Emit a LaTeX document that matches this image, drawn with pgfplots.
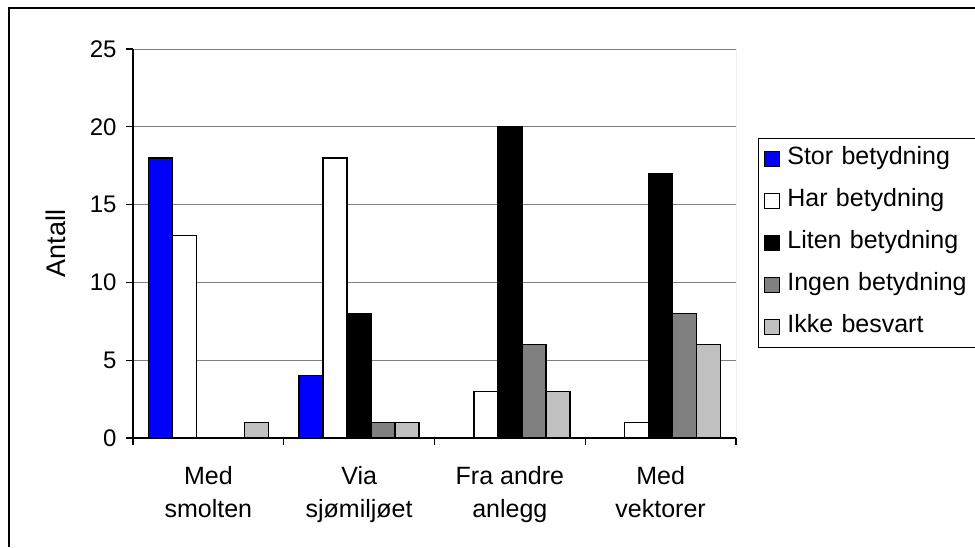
\documentclass[border=0pt]{standalone}
\usepackage{fontspec}
\setmainfont{Liberation Sans}
\usepackage{pgfplots}
\pgfplotsset{compat=1.18}

\definecolor{gridgray}{RGB}{128,128,128}
\definecolor{storblue}{RGB}{0,0,255}
\definecolor{ingen}{RGB}{128,128,128}
\definecolor{ikke}{RGB}{192,192,192}

\newcommand{\tickfont}{\fontsize{24}{33}\selectfont}
\newcommand{\chartfont}{\fontsize{25}{33}\selectfont}
\newcommand{\titlefont}{\fontsize{27}{33}\selectfont}

\begin{document}
\begin{tikzpicture}
  \useasboundingbox (0,0) rectangle (975pt,547pt);
  \draw[line width=1.6pt] (9pt,0pt) -- (9pt,539pt) -- (980pt,539pt);

  \begin{axis}[
      at={(133pt,109pt)}, anchor=south west,
      width=603pt, height=389pt, scale only axis,
      ybar=0pt, bar width=24pt,
      xmin=-0.5, xmax=3.5,
      ymin=0, ymax=25,
      ytick={0,5,10,15,20,25},
      xtick={-0.5,0.5,1.5,2.5,3.5},
      xticklabels={},
      extra x ticks={0,1,2,3},
      extra x tick labels={Med\\smolten, Via\\sjømiljøet, Fra andre\\anlegg, Med\\vektorer},
      extra x tick style={major tick length=0pt, grid=none},
      xticklabel style={align=center, font=\chartfont, yshift=-25pt},
      yticklabel style={font=\tickfont, xshift=-6pt},
      /pgf/number format/assume math mode=true,
      axis lines*=left,
      axis line style={black, line width=1.2pt, -},
      tick align=outside,
      major tick length=7pt,
      tick style={black, line width=1.2pt},
      ymajorgrids=true,
      grid style={gridgray, line width=0.9pt},
      ylabel={Antall},
      every axis y label/.style={at={(axis description cs:-0.1285,0.5)}, rotate=90, anchor=center, font=\titlefont},
      legend style={at={(axis description cs:1.0365,0.771)}, anchor=north west,
        draw=black, line width=0.9pt, font=\chartfont,
        inner xsep=6pt, inner ysep=7pt,
        row sep=15pt,
        nodes={inner sep=2pt, text height=17pt, text depth=6pt},
        /tikz/every odd column/.append style={column sep=5pt},
        /tikz/column 2/.style={nodes={text width=220pt, align=left}}},
      legend cell align=left,
      legend image code/.code={\draw[#1, draw=black, line width=0.9pt] (0pt,-7.5pt) rectangle (15pt,7.5pt);},
    ]
    \addplot[draw=black, line width=1.4pt, fill=storblue] coordinates {(0,18) (1,4)};
    \addplot[draw=black, line width=1.4pt, fill=white] coordinates {(0,13) (1,18) (2,3) (3,1)};
    \addplot[draw=black, line width=1.4pt, fill=black] coordinates {(1,8) (2,20) (3,17)};
    \addplot[draw=black, line width=1.4pt, fill=ingen] coordinates {(1,1) (2,6) (3,8)};
    \addplot[draw=black, line width=1.4pt, fill=ikke] coordinates {(0,1) (1,1) (2,3) (3,6)};
    \legend{Stor betydning, Har betydning, Liten betydning, Ingen betydning, Ikke besvart}
    \draw[gridgray, line width=0.9pt] (rel axis cs:1,0) -- (rel axis cs:1,1);
  \end{axis}
\end{tikzpicture}
\end{document}
